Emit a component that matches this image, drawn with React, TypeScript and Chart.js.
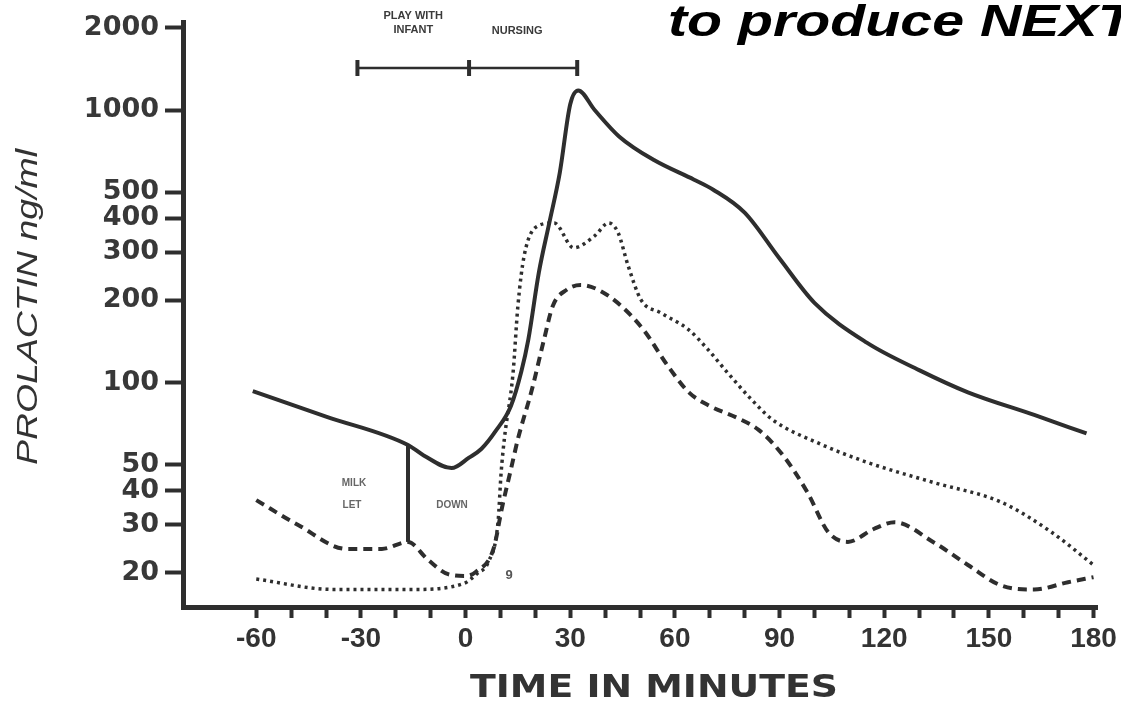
import React, { useEffect, useRef } from "react";
import { Chart, registerables } from "chart.js";

Chart.register(...registerables);

// ---- data (minutes, ng/ml) ----
const solidTime = [-61, -40, -16.5, -12, -4, 1, 4.5, 8.5, 13, 16, 18, 21, 24, 27, 30, 32.3, 37, 44, 54, 65.5, 71, 80, 90, 100, 115, 130, 144, 163, 178];
const solidValue = [93, 75, 59, 54, 48.5, 53, 57, 66, 82, 110, 144, 253, 385, 588, 1050, 1180, 1000, 800, 655, 555, 510, 420, 285, 196, 140, 111, 92, 76, 65];

const dashedTime = [-60, -48, -34, -24, -16.5, -11, -5, 0, 3, 8, 10.5, 13, 15, 19, 22.5, 25, 29, 33, 38, 44.6, 51, 58, 64, 70, 78, 84, 91, 98, 104, 109.6, 117, 123, 134, 144, 153.5, 163, 172.7, 180];
const dashedValue = [37, 30, 24.5, 24.5, 26, 22.5, 19.8, 19.5, 20.2, 24.5, 35, 48, 62, 94, 144, 191, 219, 228, 219, 191, 156, 115, 92, 82, 74, 67, 54, 39.5, 28.2, 26, 29, 30.7, 26, 21.4, 18, 17.4, 18.5, 19.3];

const dottedTime = [-60, -38, -15, -0.5, 3.5, 6.5, 9.3, 10.2, 11.1, 13.6, 15, 16.8, 20.8, 25.4, 31, 37, 41, 43.7, 46.6, 50.3, 56, 64, 69.5, 75, 81.8, 88, 101, 115, 134, 153.5, 168, 180];
const dottedValue = [19, 17.4, 17.4, 18.3, 20, 21.9, 30.7, 46.8, 61.8, 108, 191, 292, 376, 385, 312, 345, 385, 355, 268, 201, 180, 156, 132, 109, 87, 73, 60, 51, 43, 36.4, 28.2, 21.4];

const xTickValues = [-60, -50, -40, -30, -20, -10, 0, 10, 20, 30, 40, 50, 60, 70, 80, 90, 100, 110, 120, 130, 140, 150, 160, 170, 180];
const xLabelEvery = 30;
const yTickValues = [20, 30, 40, 50, 100, 200, 300, 400, 500, 1000, 2000];

const bracketTimes = [-31, 1, 32];
const bracketLabels = ["PLAY WITH", "INFANT", "NURSING"];
const letDownTime = -16.5;
const letDownTop = 59;
const letDownBottom = 26;
const letDownLabels = ["MILK", "LET", "DOWN"];

const titleText = "to produce NEXT";
const titleLead = "to produce";
const xTitle = "TIME IN MINUTES";
const yTitle = "PROLACTIN ng/ml";

const INK = "#2e2e2e";

function stretchedText(
  ctx: CanvasRenderingContext2D,
  text: string,
  x: number,
  y: number,
  font: string,
  targetWidth: number,
  align: "left" | "center",
  measureText?: string
) {
  ctx.save();
  ctx.font = font;
  const w = ctx.measureText(measureText || text).width;
  const s = targetWidth / w;
  ctx.translate(x, y);
  ctx.scale(s, 1);
  ctx.textAlign = align;
  ctx.textBaseline = "alphabetic";
  ctx.fillText(text, 0, 0);
  ctx.restore();
}

const annotationPlugin = {
  id: "annotations",
  afterDraw(chart: any) {
    const ctx: CanvasRenderingContext2D = chart.ctx;
    const xs = chart.scales.x;
    const ys = chart.scales.y;
    ctx.save();
    ctx.strokeStyle = INK;
    ctx.fillStyle = INK;

    // milk let-down line
    const lx = xs.getPixelForValue(letDownTime);
    ctx.lineWidth = 4;
    ctx.beginPath();
    ctx.moveTo(lx, ys.getPixelForValue(letDownTop));
    ctx.lineTo(lx, ys.getPixelForValue(letDownBottom));
    ctx.stroke();
    ctx.fillStyle = "#666";
    ctx.font = 'bold 10px "Liberation Sans"';
    ctx.textAlign = "center";
    ctx.fillText(letDownLabels[0], lx - 54, 486);
    ctx.fillText(letDownLabels[1], lx - 56, 508);
    ctx.fillText(letDownLabels[2], lx + 44, 508);

    // bracket for play / nursing
    const by = 68;
    const bx = bracketTimes.map((t) => xs.getPixelForValue(t));
    ctx.strokeStyle = INK;
    ctx.lineWidth = 2.5;
    ctx.beginPath();
    ctx.moveTo(bx[0], by);
    ctx.lineTo(bx[2], by);
    ctx.stroke();
    ctx.lineWidth = 4;
    bx.forEach((x) => {
      ctx.beginPath();
      ctx.moveTo(x, by - 8);
      ctx.lineTo(x, by + 8);
      ctx.stroke();
    });
    ctx.fillStyle = "#3a3a3a";
    ctx.font = 'bold 11px "Liberation Sans"';
    ctx.textAlign = "center";
    const c1 = (bx[0] + bx[1]) / 2;
    const c2 = (bx[1] + bx[2]) / 2;
    ctx.fillText(bracketLabels[0], c1, 19);
    ctx.fillText(bracketLabels[1], c1, 33);
    ctx.fillText(bracketLabels[2], c2 - 6, 34);

    // small mark near the nursing start
    ctx.fillStyle = "#555";
    ctx.font = 'bold 13px "Liberation Sans"';
    ctx.fillText("9", 509, 579);

    // heading fragment (runs off the right edge)
    ctx.fillStyle = "#000";
    stretchedText(ctx, titleText, 668, 36, 'italic bold 44px "Liberation Sans"', 296, "left", titleLead);

    // x axis title
    ctx.fillStyle = "#333";
    stretchedText(ctx, xTitle, 654, 697, 'bold 32px "DejaVu Sans"', 368, "center");

    // y axis title
    ctx.save();
    ctx.translate(37, 307);
    ctx.rotate(-Math.PI / 2);
    stretchedText(ctx, yTitle, 0, 0, 'italic 29px "Liberation Sans"', 316, "center");
    ctx.restore();

    ctx.restore();
  },
};

function pts(t: number[], v: number[]) {
  return t.map((x, i) => ({ x, y: v[i] }));
}

export default function App() {
  const ref = useRef<HTMLCanvasElement | null>(null);
  useEffect(() => {
    if (!ref.current) return;
    const chart = new Chart(ref.current, {
      type: "line",
      data: {
        datasets: [
          { label: "solid", data: pts(solidTime, solidValue), borderColor: INK, borderWidth: 4, pointRadius: 0, cubicInterpolationMode: "monotone", fill: false },
          { label: "dashed", data: pts(dashedTime, dashedValue), borderColor: INK, borderWidth: 4, borderDash: [9, 6], pointRadius: 0, cubicInterpolationMode: "monotone", fill: false },
          { label: "dotted", data: pts(dottedTime, dottedValue), borderColor: INK, borderWidth: 3.5, borderDash: [3, 4], pointRadius: 0, cubicInterpolationMode: "monotone", fill: false },
        ],
      },
      options: {
        responsive: false,
        animation: false,
        devicePixelRatio: 1,
        layout: { padding: { top: 21, right: 24, left: 0, bottom: 0 } },
        plugins: { legend: { display: false }, tooltip: { enabled: false }, title: { display: false } },
        scales: {
          x: {
            type: "linear",
            min: -81,
            max: 181,
            afterBuildTicks: (s: any) => {
              s.ticks = xTickValues.map((v) => ({ value: v }));
            },
            afterFit: (s: any) => {
              s.height = 96;
            },
            ticks: {
              autoSkip: false,
              maxRotation: 0,
              padding: 4,
              color: "#333",
              font: { family: '"Liberation Sans Narrow", "Liberation Sans"', size: 28, weight: "bold" },
              callback: (v: any) => (Number(v) % xLabelEvery === 0 ? String(v) : ""),
            },
            grid: { drawOnChartArea: false, drawTicks: true, tickLength: 11, tickWidth: 4, tickColor: INK },
            border: { display: true, color: INK, width: 5 },
          },
          y: {
            type: "logarithmic",
            min: 15,
            max: 2100,
            afterBuildTicks: (s: any) => {
              s.ticks = yTickValues.map((v) => ({ value: v }));
            },
            afterFit: (s: any) => {
              s.width = 183;
            },
            ticks: {
              autoSkip: false,
              padding: 6,
              color: "#383838",
              font: { family: '"DejaVu Sans"', size: 27, weight: "bold" },
              callback: (v: any) => String(v),
            },
            grid: { drawOnChartArea: false, drawTicks: true, tickLength: 18, tickWidth: 4, tickColor: INK },
            border: { display: true, color: INK, width: 5 },
          },
        },
      },
      plugins: [annotationPlugin],
    } as any);
    return () => chart.destroy();
  }, []);
  return (
    <div style={{ position: "absolute", left: 0, top: 0, width: 1121, height: 703, background: "#fff" }}>
      <canvas ref={ref} width={1121} height={703} />
    </div>
  );
}
